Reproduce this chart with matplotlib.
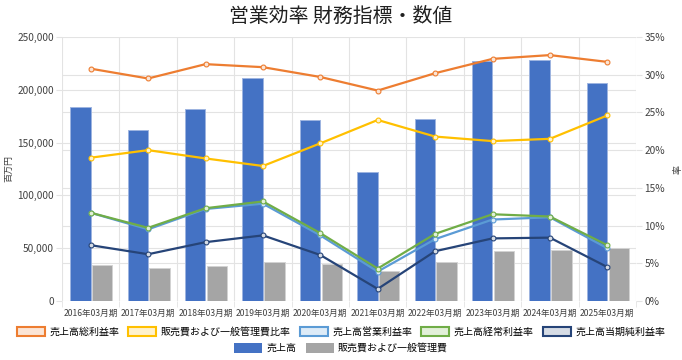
import numpy as np
import matplotlib
matplotlib.use("Agg")
from matplotlib import pyplot as plt
from matplotlib.patches import Patch
from matplotlib.ticker import FuncFormatter, MultipleLocator, FixedLocator

plt.rcParams['font.family'] = ['Noto Sans CJK JP', 'DejaVu Sans']

# ---- data ----
years = ['2016年03月期', '2017年03月期', '2018年03月期', '2019年03月期', '2020年03月期',
         '2021年03月期', '2022年03月期', '2023年03月期', '2024年03月期', '2025年03月期']
sales = [183500, 162300, 181600, 211300, 171800, 122600, 172400, 227500, 228100, 206600]
sga = [34200, 31700, 33600, 37100, 35200, 28800, 37100, 47500, 48500, 50400]

gross_margin = [30.8, 29.5, 31.4, 31.0, 29.7, 27.9, 30.2, 32.1, 32.6, 31.7]
sga_ratio = [19.0, 20.0, 18.9, 17.9, 20.9, 24.0, 21.8, 21.2, 21.5, 24.6]
op_margin = [11.7, 9.5, 12.2, 12.9, 8.7, 3.9, 8.2, 10.8, 11.1, 7.0]
ord_margin = [11.7, 9.7, 12.3, 13.2, 9.0, 4.3, 8.9, 11.5, 11.2, 7.4]
net_margin = [7.4, 6.2, 7.8, 8.7, 6.1, 1.6, 6.6, 8.3, 8.4, 4.5]

line_names = ['売上高総利益率', '販売費および一般管理費比率', '売上高営業利益率', '売上高経常利益率', '売上高当期純利益率']
line_colors = ['#ED7D31', '#FFC000', '#5B9BD5', '#70AD47', '#264478']
line_fills = ['#FBE5D6', '#FFF2CC', '#DDEBF7', '#E2F0D9', '#D6DCE5']
line_data = [gross_margin, sga_ratio, op_margin, ord_margin, net_margin]

Y_MAX = 250000
PCT_MAX = 35
GRID = '#E3E3E3'
TXT = '#404040'

# ---- figure ----
fig = plt.figure(figsize=(6.82, 3.6), dpi=100)
ax = fig.add_axes([62 / 682, 59 / 360, 574 / 682, 264 / 360])
ax2 = ax.twinx()

x = np.arange(len(years))
w = 0.355
ax.bar(x - 0.18, sales, w, color='#4472C4', edgecolor='#9DB4E0', linewidth=0.7, zorder=2)
ax.bar(x + 0.2, sga, w, color='#A5A5A5', edgecolor='#D3D3D3', linewidth=0.7, zorder=2)

ax.set_xlim(-0.5, len(years) - 0.5)
ax.set_ylim(0, Y_MAX)
ax.yaxis.set_major_locator(MultipleLocator(50000))
ax.yaxis.set_major_formatter(FuncFormatter(lambda v, p: f'{int(v):,}'))
# percent gridlines (right axis) drawn on the left axes so they stay behind the bars
ax.yaxis.set_minor_locator(FixedLocator(np.arange(0, PCT_MAX + 1, 5) / PCT_MAX * Y_MAX))
ax.set_xticks(x)
ax.set_xticklabels(years, fontsize=6.2, color=TXT)
ax.set_xticks(np.arange(-0.5, len(years)), minor=True)
ax.tick_params(axis='x', which='major', length=0, pad=6)
ax.tick_params(axis='x', which='minor', length=4, color=GRID)
ax.tick_params(axis='y', which='major', length=4, color=GRID, labelsize=7.3, labelcolor=TXT, pad=2)
ax.tick_params(axis='y', which='minor', length=0)
ax.grid(axis='x', which='minor', color=GRID, linewidth=0.8, zorder=0)
ax.grid(axis='y', which='both', color=GRID, linewidth=0.8, zorder=0)
ax.set_axisbelow(True)
ax.set_ylabel('百万円', fontsize=6.5, color=TXT, labelpad=3)

for i in range(len(line_names)):
    ax2.plot(x, line_data[i], color=line_colors[i], linewidth=1.6, marker='o', markersize=3.5,
             markerfacecolor=line_fills[i], markeredgecolor=line_colors[i], markeredgewidth=0.8)

ax2.set_ylim(0, PCT_MAX)
ax2.yaxis.set_major_locator(MultipleLocator(5))
ax2.yaxis.set_major_formatter(FuncFormatter(lambda v, p: f'{int(v)}%'))
ax2.tick_params(axis='y', length=4, color=GRID, labelsize=7.3, labelcolor=TXT, pad=2)
ax2.set_ylabel('率', fontsize=6.5, color=TXT, labelpad=6)

for a in (ax, ax2):
    for s in a.spines.values():
        s.set_visible(False)

fig.text(0.5, 0.954, '営業効率 財務指標・数値', fontsize=14.3, ha='center', va='center', color='#202020')

# ---- legends ----
h1 = [Patch(facecolor=line_fills[i], edgecolor=line_colors[i], linewidth=1.5) for i in range(5)]
fig.legend(h1, line_names, loc='center', bbox_to_anchor=(0.5, 0.078), ncol=5, frameon=False,
           fontsize=7.2, handlelength=2.8, handleheight=1.1, columnspacing=0.9, handletextpad=0.45,
           borderpad=0, borderaxespad=0)
h2 = [Patch(facecolor='#4472C4'), Patch(facecolor='#A5A5A5')]
fig.legend(h2, ['売上高', '販売費および一般管理費'], loc='center', bbox_to_anchor=(0.5, 0.033), ncol=2,
           frameon=False, fontsize=7.2, handlelength=2.8, handleheight=1.1, columnspacing=0.9,
           handletextpad=0.45, borderpad=0, borderaxespad=0)

fig.savefig('out.png', dpi=100)
